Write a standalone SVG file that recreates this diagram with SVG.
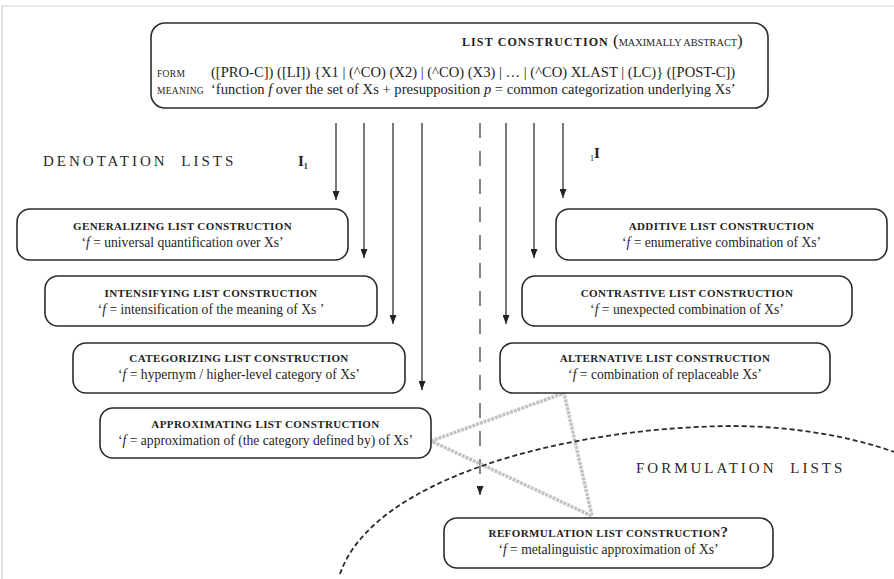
<svg xmlns="http://www.w3.org/2000/svg" width="894" height="579" viewBox="0 0 894 579">
<defs>
<marker id="ah" markerUnits="userSpaceOnUse" markerWidth="9" markerHeight="7" refX="9" refY="3.5" orient="auto">
<path d="M0,0 L9,3.5 L0,7 z" fill="#222"/>
</marker>
<style>
.frame{stroke:#cfcfcf;stroke-width:1.2;fill:none}
.box{fill:#fff;stroke:#2b2b2b;stroke-width:1.6}
.t{font-family:"Liberation Serif","Times New Roman",serif;fill:#1e1e1e}
.ttl{font-size:11px;font-weight:bold;letter-spacing:0.4px;text-anchor:middle}
.sub{font-size:13.6px;text-anchor:middle}
.sc{font-size:9.5px;letter-spacing:0.3px}
.big{font-size:15px;letter-spacing:3px;word-spacing:7px;fill:#2a2a2a}
.arr{stroke:#333;stroke-width:1.3;fill:none;marker-end:url(#ah)}
.dash{stroke:#444;stroke-width:1.3;fill:none;stroke-dasharray:15 13;marker-end:url(#ah)}
.gray{stroke:#c2c2c2;stroke-width:3.5;fill:none;stroke-dasharray:3 1}
.curve{stroke:#2a2a2a;stroke-width:1.8;fill:none;stroke-dasharray:5 3}
</style>
</defs>
<path class="frame" d="M2,579 L2,6 L894,6"/>

<g id="connectors">
<line class="arr" x1="336" y1="123" x2="336" y2="200"/>
<line class="arr" x1="364" y1="123" x2="364" y2="258"/>
<line class="arr" x1="393" y1="123" x2="393" y2="324"/>
<line class="arr" x1="422" y1="123" x2="422" y2="390"/>
<line class="dash" x1="480" y1="123" x2="480" y2="495"/>
<line class="arr" x1="506" y1="123" x2="506" y2="324"/>
<line class="arr" x1="534" y1="123" x2="534" y2="258"/>
<line class="arr" x1="563" y1="123" x2="563" y2="198"/>
<path class="gray" d="M431,441 L564,393 L592,516 Z"/>
<path class="curve" d="M340,574 C372,480 560,428 730,426 C790,426 850,436 894,452"/>
</g>

<g id="top">
<rect class="box" x="151" y="23" width="617" height="85" rx="14"/>
<text class="t" x="462" y="46"><tspan font-size="12" font-weight="bold" letter-spacing="1.1">LIST CONSTRUCTION </tspan><tspan font-size="17">(</tspan><tspan font-size="10.3">MAXIMALLY ABSTRACT</tspan><tspan font-size="17">)</tspan></text>
<text class="t sc" x="157" y="77">FORM</text>
<text class="t sc" x="157" y="94">MEANING</text>
<text class="t" x="211" y="77" font-size="14.6">([PRO-C]) ([LI]) {X1 | (^CO) (X2) | (^CO) (X3) | … | (^CO) XLAST | (LC)} ([POST-C])</text>
<text class="t" x="211" y="94" font-size="14.6">‘function <tspan font-style="italic">f</tspan> over the set of Xs + presupposition <tspan font-style="italic">p</tspan> = common categorization underlying Xs’</text>
</g>

<g id="labels">
<text class="t big" x="43" y="166">DENOTATION LISTS</text>
<text class="t big" x="636" y="473">FORMULATION LISTS</text>
<text class="t" x="298" y="166" font-size="15" font-weight="bold">I<tspan font-size="8" dy="3">1</tspan></text>
<text class="t" x="590" y="161" font-size="8">1<tspan font-size="15" font-weight="bold" dy="-3">I</tspan></text>
</g>

<g id="generalizing">
<rect class="box" x="17" y="209" width="331" height="51" rx="13"/>
<text class="t ttl" x="182.5" y="230">GENERALIZING LIST CONSTRUCTION</text>
<text class="t sub" x="182.5" y="247">‘<tspan font-style="italic">f</tspan> = universal quantification over Xs’</text>
</g>
<g id="intensifying">
<rect class="box" x="45" y="276" width="332" height="50" rx="13"/>
<text class="t ttl" x="211" y="297">INTENSIFYING LIST CONSTRUCTION</text>
<text class="t sub" x="211" y="314">‘<tspan font-style="italic">f</tspan> = intensification of the meaning of Xs ’</text>
</g>
<g id="categorizing">
<rect class="box" x="73" y="343" width="332" height="50" rx="13"/>
<text class="t ttl" x="239" y="362">CATEGORIZING LIST CONSTRUCTION</text>
<text class="t sub" x="239" y="379">‘<tspan font-style="italic">f</tspan> = hypernym / higher-level category of Xs’</text>
</g>
<g id="approximating">
<rect class="box" x="100" y="408" width="331" height="50" rx="13"/>
<text class="t ttl" x="265.5" y="428">APPROXIMATING LIST CONSTRUCTION</text>
<text class="t sub" x="265.5" y="445">‘<tspan font-style="italic">f</tspan> = approximation of (the category defined by) of Xs’</text>
</g>
<g id="additive">
<rect class="box" x="556" y="209" width="331" height="51" rx="13"/>
<text class="t ttl" x="721.5" y="230">ADDITIVE LIST CONSTRUCTION</text>
<text class="t sub" x="721.5" y="247">‘<tspan font-style="italic">f</tspan> = enumerative combination of Xs’</text>
</g>
<g id="contrastive">
<rect class="box" x="522" y="276" width="330" height="50" rx="13"/>
<text class="t ttl" x="687" y="297">CONTRASTIVE LIST CONSTRUCTION</text>
<text class="t sub" x="687" y="314">‘<tspan font-style="italic">f</tspan> = unexpected combination of Xs’</text>
</g>
<g id="alternative">
<rect class="box" x="500" y="343" width="330" height="50" rx="13"/>
<text class="t ttl" x="665" y="362">ALTERNATIVE LIST CONSTRUCTION</text>
<text class="t sub" x="665" y="379">‘<tspan font-style="italic">f</tspan> = combination of replaceable Xs’</text>
</g>
<g id="reformulation">
<rect class="box" x="444" y="518" width="329" height="50" rx="13"/>
<text class="t ttl" x="608.5" y="537">REFORMULATION LIST CONSTRUCTION<tspan font-size="15">?</tspan></text>
<text class="t sub" x="608.5" y="554">‘<tspan font-style="italic">f</tspan> = metalinguistic approximation of Xs’</text>
</g>
</svg>
